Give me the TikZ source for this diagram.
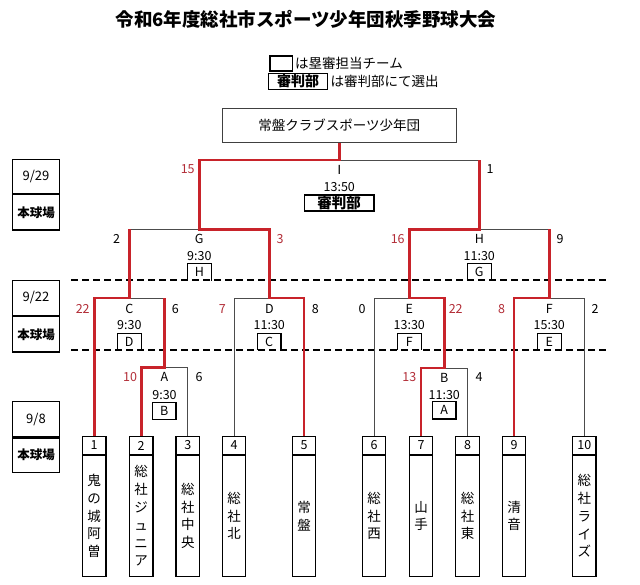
\documentclass[tikz,border=0pt]{standalone}
\usepackage{fontspec}
\setmainfont{Noto Sans CJK JP}
\definecolor{wred}{RGB}{200,35,42}
\definecolor{wtxt}{RGB}{178,45,55}
\begin{document}
\begin{tikzpicture}[x=1pt,y=-1pt,
  win/.style={draw=wred, line width=2.6pt},
  thinln/.style={draw=black!70, line width=0.9pt},
  box/.style={draw=black, line width=1.3pt, inner sep=0pt},
  lbl/.style={font=\fontsize{12.5}{12.5}\selectfont, inner sep=0pt},
  rlbl/.style={lbl, text=wtxt},
  numbox/.style={box, minimum width=23.6pt, minimum height=17.6pt, font=\fontsize{12.5}{12.5}\selectfont},
  namebox/.style={box, anchor=north, minimum width=23.6pt, minimum height=120.7pt, align=center, font=\fontsize{13.5}{17.8}\selectfont},
  datebox/.style={box, minimum width=46.6pt, font=\fontsize{13}{13}\selectfont},
  brk/.style={inner sep=0pt, minimum width=23.5pt, minimum height=16.5pt, font=\fontsize{12.5}{12.5}\selectfont},
  brkline/.style={draw=black, line width=1.3pt},
  dline/.style={draw=black, line width=1.6pt, dash pattern=on 7pt off 4pt}
]
\useasboundingbox (0,0) rectangle (640,585);

% title
\node[font=\fontsize{18.5}{18.5}\selectfont\bfseries, inner sep=0pt] (title) at (306,19.5) {令和6年度総社市スポーツ少年団秋季野球大会};

% legend
\node[box, minimum width=22.3pt, minimum height=15pt] (lg1) at (281.2,63.5) {};
\node[anchor=west, inner sep=0pt, font=\fontsize{13.5}{13.5}\selectfont] (lg1t) at ([xshift=2pt]lg1.east) {は塁審担当チーム};
\node[box, minimum width=59.4pt, minimum height=16pt, font=\fontsize{14}{14}\selectfont\bfseries] (lg2) at (298,81.3) {審判部};
\node[anchor=west, inner sep=0pt, font=\fontsize{13.5}{13.5}\selectfont] (lg2t) at ([xshift=2pt]lg2.east) {は審判部にて選出};

% champion
\node[draw=black!75, line width=0.9pt, minimum width=233.3pt, minimum height=34pt, inner sep=0pt, font=\fontsize{13.5}{13.5}\selectfont] (champ) at (339.3,125.3) {常盤クラブスポーツ少年団};

% date boxes
\node[datebox, minimum height=34pt] (d1) at (36,176.3) {9/29};
\node[datebox, minimum height=35.4pt, anchor=north, font=\fontsize{12.5}{12.5}\selectfont\bfseries] (d1p) at (d1.south) {本球場};
\node[datebox, minimum height=35pt] (d2) at (36,297.8) {9/22};
\node[datebox, minimum height=35.4pt, anchor=north, font=\fontsize{12.5}{12.5}\selectfont\bfseries] (d2p) at (d2.south) {本球場};
\node[datebox, minimum height=35pt] (d3) at (36,419.2) {9/8};
\node[datebox, minimum height=34.3pt, anchor=north, font=\fontsize{12.5}{12.5}\selectfont\bfseries] (d3p) at (d3.south) {本球場};

% dashed separators
\coordinate (dl1a) at (71,280); \coordinate (dl1b) at (608,280);
\coordinate (dl2a) at (71,350); \coordinate (dl2b) at (608,350);
\draw[dline] (dl1a) -- (dl1b);
\draw[dline] (dl2a) -- (dl2b);

% teams
\node[numbox] (n1) at (94.2,445.5) {1};
\node[namebox] (t1) at (n1.south) {鬼\\の\\城\\阿\\曽};
\node[numbox] (n2) at (141.2,445.5) {2};
\node[namebox] (t2) at (n2.south) {総\\社\\ジ\\ュ\\ニ\\ア};
\node[numbox] (n3) at (187.8,445.5) {3};
\node[namebox] (t3) at (n3.south) {総\\社\\中\\央};
\node[numbox] (n4) at (234,445.5) {4};
\node[namebox] (t4) at (n4.south) {総\\社\\北};
\node[numbox] (n5) at (304,445.5) {5};
\node[namebox] (t5) at (n5.south) {常\\盤};
\node[numbox] (n6) at (374,445.5) {6};
\node[namebox] (t6) at (n6.south) {総\\社\\西};
\node[numbox] (n7) at (421,445.5) {7};
\node[namebox] (t7) at (n7.south) {山\\手};
\node[numbox] (n8) at (467.5,445.5) {8};
\node[namebox] (t8) at (n8.south) {総\\社\\東};
\node[numbox] (n9) at (514,445.5) {9};
\node[namebox] (t9) at (n9.south) {清\\音};
\node[numbox] (n10) at (584.3,445.5) {10};
\node[namebox] (t10) at (n10.south) {総\\社\\ラ\\イ\\ズ};

% match points
\coordinate (mA) at (164.5,367.5);
\coordinate (mB) at (444.3,368);
\coordinate (mC) at (129.3,298);
\coordinate (mD) at (269.3,298);
\coordinate (mE) at (409.3,298);
\coordinate (mF) at (549.3,298);
\coordinate (mG) at (199.3,229.3);
\coordinate (mH) at (479.3,229.3);
\coordinate (mI) at (339.3,160);

% thin (losing) lines
\draw[thinln] (mA) -| (n3.north);
\draw[thinln] (mB) -| (n8.north);
\draw[thinln] (mC) -- (mA |- mC);
\draw[thinln] (mD) -| (n4.north);
\draw[thinln] (mE) -| (n6.north);
\draw[thinln] (mF) -| (n10.north);
\draw[thinln] (mG) -- (mC |- mG);
\draw[thinln] (mH) -- (mF |- mH);
\draw[thinln] (mI) -- (mH |- mI);

% red (winning) lines
\draw[win] (n1.north) |- (mC) -- (mC |- mG);
\draw[win] (n2.north) |- (mA) -- (mA |- mC);
\draw[win] (n5.north) |- (mD) -- (mD |- mG) -- (mG) -- (mG |- mI) -- (mI) -- (champ.south);
\draw[win] (n7.north) |- (mB) -- (mB |- mE) -- (mE) -- (mE |- mH) -- (mH) -- (mH |- mI);
\draw[win] (n9.north) |- (mF) -- (mF |- mH);

% final I
\node[rlbl] (sI1) at (187.7,169.5) {15};
\node[lbl] (lI) at (339.3,170) {Ⅰ};
\node[lbl] (sI2) at (490,169.5) {1};
\node[lbl] (tI) at (339.3,187.3) {13:50};
\node[box, minimum width=69.7pt, minimum height=16pt, font=\fontsize{14.5}{14.5}\selectfont\bfseries] (uI) at (339.2,203) {審判部};

% G
\node[rlbl] (sG2) at (280,239.3) {3};
\node[lbl] (sG1) at (116.7,239.3) {2};
\node[lbl] (lG) at (199.3,239.3) {G};
\node[lbl] (tG) at (199.3,256.3) {9:30};
\node[brk] (uG) at (199.3,272.2) {H};
% H
\node[rlbl] (sH1) at (397.7,239.3) {16};
\node[lbl] (lH) at (479.3,239.3) {H};
\node[lbl] (sH2) at (560,239.3) {9};
\node[lbl] (tH) at (479.3,256.3) {11:30};
\node[brk] (uH) at (479.2,272.2) {G};

% C
\node[rlbl] (sC1) at (82.7,309) {22};
\node[lbl] (lC) at (129.3,309) {C};
\node[lbl] (sC2) at (175.3,309) {6};
\node[lbl] (tC) at (129.3,325.5) {9:30};
\node[brk] (uC) at (129.2,341.7) {D};
% D
\node[rlbl] (sD1) at (222.3,309) {7};
\node[lbl] (lD) at (269.3,309) {D};
\node[lbl] (sD2) at (315.3,309) {8};
\node[lbl] (tD) at (269.3,325.5) {11:30};
\node[brk] (uD) at (269.1,341.7) {C};
% E
\node[lbl] (sE1) at (362,309) {0};
\node[lbl] (lE) at (409.3,309) {E};
\node[rlbl] (sE2) at (455.7,309) {22};
\node[lbl] (tE) at (409.3,325.5) {13:30};
\node[brk] (uE) at (409.3,341.7) {F};
% F
\node[rlbl] (sF1) at (501.7,309) {8};
\node[lbl] (lF) at (549.3,309) {F};
\node[lbl] (sF2) at (595,309) {2};
\node[lbl] (tF) at (549.3,325.5) {15:30};
\node[brk] (uF) at (549.2,341.7) {E};

\foreach \b in {uG,uH,uC,uD,uE,uF}{
  \draw[brkline] (\b.south west) -- (\b.north west) -- (\b.north east) -- (\b.south east);
}

% A
\node[rlbl] (sA1) at (130,377.3) {10};
\node[lbl] (lA) at (164.5,377.3) {A};
\node[lbl] (sA2) at (199,377.3) {6};
\node[lbl] (tA) at (164.5,395) {9:30};
\node[box, minimum width=23.7pt, minimum height=17pt, font=\fontsize{12.5}{12.5}\selectfont] (uA) at (164.2,410.8) {B};
% B
\node[rlbl] (sB1) at (409.3,377.3) {13};
\node[lbl] (lB) at (444.3,377.5) {B};
\node[lbl] (sB2) at (479,377.5) {4};
\node[lbl] (tB) at (444.3,395) {11:30};
\node[box, minimum width=23.7pt, minimum height=17.3pt, font=\fontsize{12.5}{12.5}\selectfont] (uB) at (444.2,410.4) {A};

\end{tikzpicture}
\end{document}
